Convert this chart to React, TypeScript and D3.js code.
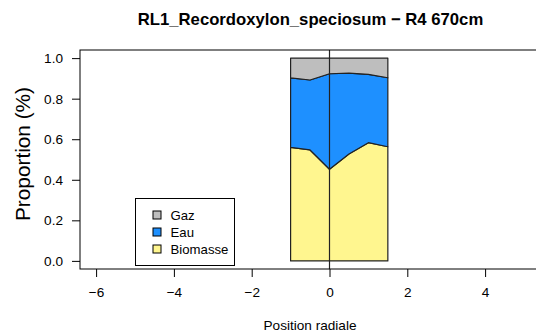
import React, { useEffect, useRef } from "react";
import * as d3 from "d3";

// positions radiales et proportions
const positions = [-1, -0.5, 0, 0.5, 1, 1.5];
const biomasse = [0.56, 0.547, 0.452, 0.527, 0.583, 0.563];
const eau = [0.343, 0.345, 0.471, 0.399, 0.337, 0.34];
const gaz = [0.097, 0.108, 0.077, 0.074, 0.08, 0.097];
const layerNames = ["Biomasse", "Eau", "Gaz"];
const layerColors = ["#FFF68F", "#1E90FF", "#BEBEBE"];
const xTicks = [-6, -4, -2, 0, 2, 4];
const yTicks = [0, 0.2, 0.4, 0.6, 0.8, 1.0];

const W = 536;
const H = 335;
const FONT = "Liberation Sans, Arial, sans-serif";

const App: React.FC = () => {
  const svgRef = useRef<SVGSVGElement | null>(null);

  useEffect(() => {
    document.body.style.margin = "0";
    if (!svgRef.current) return;
    const svg = d3.select(svgRef.current);
    svg.selectAll("*").remove();

    const left = 80, top = 50, bottom = 269, right = 544;
    const x = d3.scaleLinear().domain([0, 2]).range([329.5, 407.3]);
    const y = d3.scaleLinear().domain([-0.04, 1.04]).range([bottom, top]);

    const rows = positions.map((p, i) => ({ p, Biomasse: biomasse[i], Eau: eau[i], Gaz: gaz[i] }));
    const stack = d3.stack<any>().keys(layerNames);
    const layers = stack(rows);

    const area = d3.area<any>()
      .x((d) => x(d.data.p))
      .y0((d) => y(d[0]))
      .y1((d) => y(d[1]));

    svg.selectAll("path.layer")
      .data(layers)
      .enter()
      .append("path")
      .attr("class", "layer")
      .attr("d", area as any)
      .attr("fill", (_, i) => layerColors[i])
      .attr("stroke", "#222")
      .attr("stroke-width", 1.2)
      .attr("stroke-linejoin", "round");

    // ligne verticale a 0
    svg.append("line")
      .attr("x1", x(0)).attr("x2", x(0))
      .attr("y1", top).attr("y2", bottom)
      .attr("stroke", "#222").attr("stroke-width", 1.2);

    // cadre
    svg.append("rect")
      .attr("x", left).attr("y", top)
      .attr("width", right - left).attr("height", bottom - top)
      .attr("fill", "none").attr("stroke", "#000").attr("stroke-width", 1);

    // axe y
    const yAxis = svg.append("g").attr("transform", `translate(${left},0)`)
      .call(d3.axisLeft(y).tickValues(yTicks).tickFormat(d3.format(".1f")).tickSize(8).tickPadding(9));
    yAxis.selectAll(".domain").remove();
    yAxis.selectAll(".tick line").attr("stroke", "#000");
    yAxis.selectAll(".tick text").style("font-family", FONT).style("font-size", "13.6px").attr("fill", "#000");

    // axe x
    const xAxis = svg.append("g").attr("transform", `translate(0,${bottom})`)
      .call(d3.axisBottom(x).tickValues(xTicks).tickFormat((d) => String(d).replace("-", "\u2212")).tickSize(8).tickPadding(10));
    xAxis.selectAll(".domain").remove();
    xAxis.selectAll(".tick line").attr("stroke", "#000");
    xAxis.selectAll(".tick text").style("font-family", FONT).style("font-size", "13.6px").attr("fill", "#000");

    // legende
    const lg = svg.append("g");
    lg.append("rect").attr("x", 135.5).attr("y", 198.5).attr("width", 99).attr("height", 67)
      .attr("fill", "#fff").attr("stroke", "#000");
    const legendItems = [
      { name: "Gaz", color: layerColors[2] },
      { name: "Eau", color: layerColors[1] },
      { name: "Biomasse", color: layerColors[0] },
    ];
    legendItems.forEach((it, i) => {
      const cy = 215 + i * 17;
      lg.append("rect").attr("x", 153).attr("y", cy - 4).attr("width", 8).attr("height", 8)
        .attr("fill", it.color).attr("stroke", "#000");
      lg.append("text").attr("x", 170.5).attr("y", cy + 4.8).text(it.name)
        .style("font-family", FONT).style("font-size", "13.2px");
    });

    // titres
    svg.append("text").attr("x", 310.5).attr("y", 24.5).attr("text-anchor", "middle")
      .style("font-family", FONT).style("font-size", "16.7px").style("font-weight", "bold")
      .text("RL1_Recordoxylon_speciosum \u2212 R4 670cm");
    svg.append("text").attr("x", 310).attr("y", 330).attr("text-anchor", "middle")
      .style("font-family", FONT).style("font-size", "13.6px")
      .text("Position radiale");
    svg.append("text").attr("transform", `translate(30,154) rotate(-90)`).attr("text-anchor", "middle")
      .style("font-family", FONT).style("font-size", "20.8px")
      .text("Proportion (%)");
  }, []);

  return <svg ref={svgRef} width={W} height={H} style={{ display: "block" }}></svg>;
};

export default App;
